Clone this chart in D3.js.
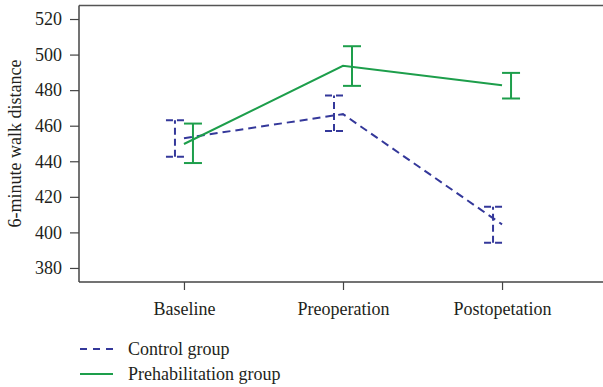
<!DOCTYPE html>
<html>
<head>
<meta charset="utf-8">
<script src="https://cdn.jsdelivr.net/npm/d3@7"></script>
<style>
  body { margin: 0; background: #fff; }
  text { font-family: "Liberation Serif", "Times New Roman", serif; fill: #231f20; }
</style>
</head>
<body>
<svg id="chart" width="603" height="387"></svg>
<script>
// time points
var phases = ["Baseline", "Preoperation", "Postopetation"];

// means and 95% CI
var controlMean = [453, 466.5, 404.5];
var controlLow  = [442.5, 457, 394.2];
var controlHigh = [463, 477, 414.4];

var prehabMean = [449.7, 493.7, 482.8];
var prehabLow  = [439, 482.4, 475.3];
var prehabHigh = [461.2, 504.7, 489.7];

var yTicks = [380, 400, 420, 440, 460, 480, 500, 520];

var groups = [
  {name: "Control group", mean: controlMean, lo: controlLow, hi: controlHigh,
   color: "#34389a", dash: "8,5", shift: -9},
  {name: "Prehabilitation group", mean: prehabMean, lo: prehabLow, hi: prehabHigh,
   color: "#1d9e4b", dash: null, shift: 9}
];

var svg = d3.select("#chart");
var mLeft = 79, mRight = 603, mTop = 5.5, mBottom = 282;

var x = d3.scalePoint()
  .domain(phases)
  .range([mLeft, 607])
  .padding(0.66);

var y = d3.scaleLinear()
  .domain([372.1, 527.6])
  .range([mBottom, mTop]);

// frame: left axis, bottom axis, top border
svg.append("line")
  .attr("x1", mLeft).attr("x2", mRight)
  .attr("y1", mTop).attr("y2", mTop)
  .attr("stroke", "#555").attr("stroke-width", 1.5);

var yAxis = svg.append("g")
  .attr("transform", "translate(" + mLeft + ",0)")
  .call(d3.axisLeft(y).tickValues(yTicks).tickSize(9).tickPadding(8));

var xAxis = svg.append("g")
  .attr("transform", "translate(0," + mBottom + ")")
  .call(d3.axisBottom(x).tickSize(8).tickPadding(12));

[yAxis, xAxis].forEach(function(ax) {
  ax.select(".domain").attr("stroke", "#444").attr("stroke-width", 1.5);
  ax.selectAll(".tick line").attr("stroke", "#444").attr("stroke-width", 1.2);
  ax.selectAll("text")
    .style("font-family", "Liberation Serif, serif")
    .style("font-size", "18px")
    .attr("fill", "#231f20");
});
yAxis.select(".domain").attr("d", "M0," + mTop + "V" + mBottom);
xAxis.select(".domain").attr("d", "M" + mLeft + ",0H" + mRight);

svg.append("text")
  .attr("transform", "translate(21," + y(450) + ") rotate(-90)")
  .attr("text-anchor", "middle")
  .style("font-size", "18px")
  .text("6-minute walk distance");

// lines and error bars
var line = d3.line()
  .x(function(d, i) { return x(phases[i]); })
  .y(function(d) { return y(d); });

groups.forEach(function(g) {
  var layer = svg.append("g");

  layer.append("path")
    .datum(g.mean)
    .attr("d", line)
    .attr("fill", "none")
    .attr("stroke", g.color)
    .attr("stroke-width", 2)
    .attr("stroke-dasharray", g.dash);

  phases.forEach(function(p, i) {
    var cx = x(p) + g.shift;
    var bar = layer.append("g")
      .attr("stroke", g.color)
      .attr("stroke-width", 2)
      .attr("stroke-dasharray", g.dash ? "7,4" : null)
      .attr("fill", "none");
    bar.append("line")
      .attr("x1", cx).attr("x2", cx)
      .attr("y1", y(g.lo[i])).attr("y2", y(g.hi[i]));
    bar.append("line")
      .attr("x1", cx - 9).attr("x2", cx + 9)
      .attr("y1", y(g.hi[i])).attr("y2", y(g.hi[i]));
    bar.append("line")
      .attr("x1", cx - 9).attr("x2", cx + 9)
      .attr("y1", y(g.lo[i])).attr("y2", y(g.lo[i]));
  });
});

// legend
var legend = svg.append("g");
groups.forEach(function(g, i) {
  var ly = 349 + i * 25;
  legend.append("line")
    .attr("x1", 80).attr("x2", 113)
    .attr("y1", ly).attr("y2", ly)
    .attr("stroke", g.color)
    .attr("stroke-width", 2)
    .attr("stroke-dasharray", g.dash ? "7,6" : null);
  legend.append("text")
    .attr("x", 128).attr("y", ly + 6)
    .style("font-size", "18px")
    .text(g.name);
});
</script>
</body>
</html>
